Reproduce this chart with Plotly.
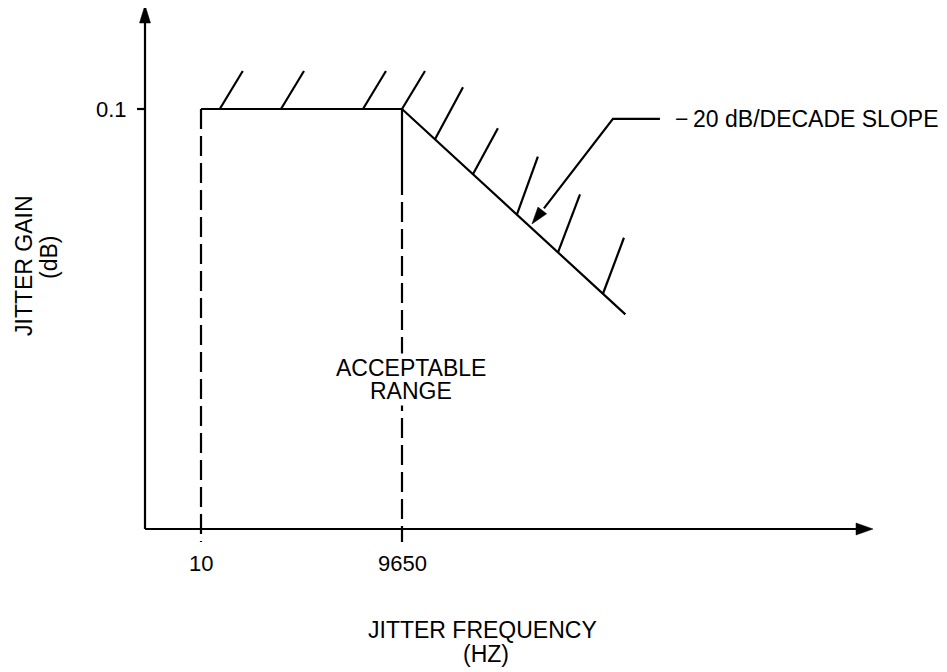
import numpy as np
import plotly.graph_objects as go

# ---------------- data ----------------
corner_freqs_hz = [10, 9650]          # start of range, corner frequency
flat_gain_db = 0.1                    # flat gain level
slope_db_per_decade = -20             # roll-off above corner
slope_end_freq_hz = 2.0e7             # where the drawn slope ends
hatch_flat_freqs_hz = [19, 154, 2540, 9650]
hatch_slope_freqs_hz = [2.98e4, 1.09e5, 4.9e5, 2.0e6, 9.3e6]
pointer_freq_hz = 8.2e5               # where the slope call-out arrow points
x_tick_vals = [10, 9650]
x_tick_text = ["10", "9650"]
y_tick_vals = [0.1]
y_tick_text = ["0.1"]

# ---------------- styling / layout ----------------
OFF = 8                      # page body margin in the browser
W, H = 947 - OFF, 672 - OFF  # figure size
LW = 2.2
FONT = "Liberation Sans, Arial, Helvetica, sans-serif"
FS = 23
FS_TICK = 22
PX_PER_DEC = 201 / np.log10(965)
PX_PER_DB = PX_PER_DEC * (205 / 223) / 20
ANCHOR_PX = (201 - OFF, 109 - OFF)  # figure pixel of (corner_freqs_hz[0], flat_gain_db)

def lx(f):
    return np.log10(f)

def gain(f):
    f = np.asarray(f, dtype=float)
    return np.where(f <= corner_freqs_hz[1], flat_gain_db,
                    flat_gain_db + slope_db_per_decade * np.log10(f / corner_freqs_hz[1]))

def dx(px):
    return px / PX_PER_DEC

def dy(px):  # positive = upward
    return px / PX_PER_DB

x_ref = lx(corner_freqs_hz[0])
x_range = [x_ref - dx(ANCHOR_PX[0]), x_ref + dx(W - ANCHOR_PX[0])]
y_range = [flat_gain_db - dy(H - ANCHOR_PX[1]), flat_gain_db + dy(ANCHOR_PX[1])]

# axis origin (schematic) in data space
ax_x0 = x_ref - dx(56)
ax_y0 = flat_gain_db - dy(420)

fig = go.Figure()

def add_line(xs, ys, dash="solid"):
    fig.add_trace(go.Scatter(x=xs, y=ys, mode="lines",
                             line=dict(color="black", width=LW, dash=dash),
                             hoverinfo="skip", showlegend=False))

def add_tri(pts):
    xs = [p[0] for p in pts] + [pts[0][0]]
    ys = [p[1] for p in pts] + [pts[0][1]]
    fig.add_trace(go.Scatter(x=xs, y=ys, mode="lines", fill="toself",
                             fillcolor="black", line=dict(color="black", width=0.5),
                             hoverinfo="skip", showlegend=False))

# axes with arrows
add_line([ax_x0, ax_x0 + dx(716)], [ax_y0, ax_y0])
add_tri([(ax_x0 + dx(728), ax_y0), (ax_x0 + dx(711), ax_y0 + dy(6)), (ax_x0 + dx(711), ax_y0 - dy(6))])
add_line([ax_x0, ax_x0], [ax_y0, ax_y0 + dy(510)])
add_tri([(ax_x0, ax_y0 + dy(524)), (ax_x0 - dx(5.5), ax_y0 + dy(506)), (ax_x0 + dx(5.5), ax_y0 + dy(506))])

# y tick
for v in y_tick_vals:
    add_line([ax_x0 - dx(8), ax_x0], [v, v])

# response curve
resp_f = [corner_freqs_hz[0], corner_freqs_hz[1], slope_end_freq_hz]
add_line(lx(resp_f), gain(resp_f))

# vertical range markers
f_lo, f_hi = corner_freqs_hz
add_line([lx(f_lo), lx(f_lo)], [flat_gain_db, ax_y0 - dy(13)], dash="20px,7px")
add_line([lx(f_hi), lx(f_hi)], [flat_gain_db, flat_gain_db - dy(86)])
add_line([lx(f_hi), lx(f_hi)], [flat_gain_db - dy(93), ax_y0 - dy(13)], dash="20px,7px")

# hatching
hatch_flat_off = [(23, 38)] * len(hatch_flat_freqs_hz)
hatch_slope_off = [(28, 52), (25, 46), (21, 58), (22, 58), (21, 56)]
hx, hy = [], []
for f, (ox, oy) in zip(hatch_flat_freqs_hz + hatch_slope_freqs_hz, hatch_flat_off + hatch_slope_off):
    x0, y0 = lx(f), float(gain(f))
    hx += [x0, x0 + dx(ox), None]
    hy += [y0, y0 + dy(oy), None]
add_line(hx, hy)

# call-out pointer
tip_x = lx(pointer_freq_hz)
tip_y = float(gain(pointer_freq_hz)) + dy(4.5)
bend = (81, 105)
end = (128, 105)
add_line([tip_x + dx(12), tip_x + dx(bend[0]), tip_x + dx(end[0])],
         [tip_y + dy(15.5), tip_y + dy(bend[1]), tip_y + dy(end[1])])
d = np.array([-bend[0], -bend[1]], float)
d /= np.linalg.norm(d)
n = np.array([-d[1], d[0]])
L, HW = 17, 5.5
b1 = -L * d + HW * n
b2 = -L * d - HW * n
add_tri([(tip_x, tip_y), (tip_x + dx(b1[0]), tip_y + dy(b1[1])), (tip_x + dx(b2[0]), tip_y + dy(b2[1]))])

# ---------------- text ----------------
def P(px, py):  # reference-picture pixel -> paper coords
    return (px - OFF) / W, 1 - (py - OFF) / H

ann = []
def txt(text, px, py, xanchor="center", angle=0, size=FS, bg=None):
    x, y = P(px, py)
    a = dict(text=text, x=x, y=y, xref="paper", yref="paper",
             xanchor=xanchor, yanchor="middle", showarrow=False,
             textangle=angle, font=dict(family=FONT, size=size, color="black"))
    if bg:
        a["bgcolor"] = bg
    ann.append(a)

for v, t in zip(x_tick_vals, x_tick_text):
    ann.append(dict(text=t, x=lx(v), y=ax_y0, xref="x", yref="y", yshift=-34,
                    xanchor="center", yanchor="middle", showarrow=False,
                    font=dict(family=FONT, size=FS_TICK, color="black")))
for v, t in zip(y_tick_vals, y_tick_text):
    ann.append(dict(text=t, x=ax_x0, y=v, xref="x", yref="y", xshift=-16,
                    xanchor="right", yanchor="middle", showarrow=False,
                    font=dict(family=FONT, size=FS_TICK, color="black")))

txt("\u2212\u200920 dB/DECADE SLOPE", 673, 119, xanchor="left")
txt("ACCEPTABLE", 411, 368, bg="white")
txt("RANGE", 411, 391, bg="white")
txt("JITTER FREQUENCY", 483, 630)
txt("(HZ)", 486, 654)
txt("JITTER GAIN", 24, 266, angle=-90)
txt("(dB)", 49, 258, angle=-90)

fig.update_layout(
    width=W, height=H,
    margin=dict(l=0, r=0, t=0, b=0),
    paper_bgcolor="white", plot_bgcolor="white",
    xaxis=dict(range=x_range, visible=False, fixedrange=True),
    yaxis=dict(range=y_range, visible=False, fixedrange=True),
    annotations=ann,
    showlegend=False,
)

fig.write_html("out.html")
